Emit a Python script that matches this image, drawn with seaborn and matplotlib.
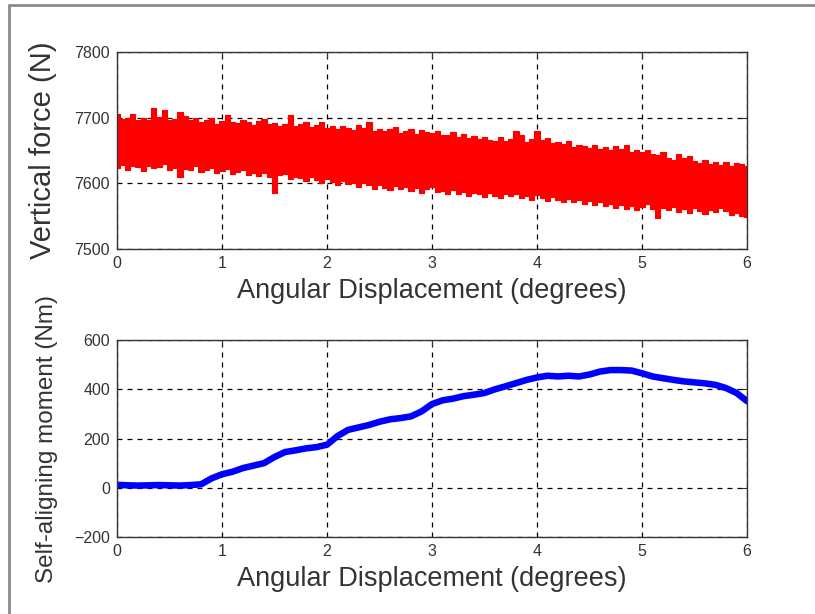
import numpy as np
import pandas as pd
import matplotlib
matplotlib.use("Agg")
import matplotlib.pyplot as plt
import seaborn as sns
from matplotlib.lines import Line2D

# ---------------------------------------------------
# data
# ---------------------------------------------------

# top panel: noisy vertical force, given as its upper / lower envelope
force_x = np.round(np.arange(0, 121) * 0.05, 2)
force_upper = [
    7706, 7698, 7700, 7705, 7696, 7699, 7697, 7714, 7701, 7711,
    7696, 7698, 7709, 7702, 7697, 7700, 7694, 7696, 7699, 7691,
    7695, 7704, 7693, 7692, 7697, 7694, 7689, 7695, 7698, 7690,
    7692, 7688, 7691, 7704, 7687, 7691, 7693, 7686, 7689, 7694,
    7685, 7688, 7683, 7687, 7684, 7681, 7689, 7684, 7694, 7680,
    7683, 7679, 7682, 7686, 7677, 7680, 7683, 7675, 7681, 7678,
    7676, 7680, 7674, 7673, 7678, 7671, 7675, 7669, 7672, 7667,
    7671, 7666, 7665, 7670, 7664, 7667, 7679, 7674, 7663, 7668,
    7680, 7666, 7669, 7661, 7663, 7660, 7664, 7656, 7659, 7657,
    7654, 7658, 7653, 7655, 7650, 7657, 7652, 7659, 7648, 7651,
    7647, 7650, 7645, 7643, 7647, 7639, 7636, 7644, 7638, 7641,
    7634, 7631, 7636, 7630, 7633, 7628, 7632, 7626, 7631, 7629,
    7627,
]
force_lower = [
    7624, 7628, 7621, 7626, 7625, 7619, 7627, 7623, 7625, 7630,
    7621, 7624, 7609, 7622, 7620, 7626, 7617, 7621, 7624, 7615,
    7619, 7622, 7614, 7618, 7620, 7613, 7616, 7611, 7615, 7609,
    7585, 7612, 7614, 7606, 7610, 7608, 7603, 7609, 7605, 7601,
    7606, 7602, 7598, 7604, 7599, 7601, 7595, 7600, 7597, 7592,
    7598, 7593, 7590, 7596, 7591, 7595, 7588, 7593, 7586, 7591,
    7594, 7587, 7589, 7584, 7590, 7583, 7587, 7581, 7586, 7583,
    7579, 7585, 7581, 7577, 7583, 7580, 7584, 7577, 7581, 7575,
    7582, 7578, 7573, 7579, 7575, 7571, 7576, 7572, 7574, 7569,
    7573, 7567, 7571, 7565, 7569, 7563, 7567, 7561, 7566, 7560,
    7564, 7568, 7561, 7547, 7562, 7559, 7564, 7557, 7561, 7555,
    7562, 7558, 7553, 7560, 7556, 7563, 7558, 7552, 7555, 7550,
    7548,
]

# bottom panel: self-aligning moment
moment_x = np.round(np.arange(0, 61) * 0.1, 1)
moment_y = [
    12, 10, 9, 10, 11, 10, 9, 11, 14, 38,
    55, 65, 80, 90, 100, 125, 145, 152, 160, 165,
    175, 210, 235, 245, 255, 268, 278, 283, 290, 310,
    340, 355, 362, 372, 378, 385, 400, 412, 425, 438,
    448, 455, 452, 455, 452, 460, 472, 478, 478, 476,
    465, 452, 445, 438, 432, 428, 424, 418, 405, 385,
    352,
]

x_ticks = [0, 1, 2, 3, 4, 5, 6]
force_ticks = [7500, 7600, 7700, 7800]
moment_ticks = [-200, 0, 200, 400, 600]

xlabel = "Angular Displacement (degrees)"

# ---------------------------------------------------
# style
# ---------------------------------------------------

sns.set_theme(style="white")
plt.rcParams['font.family'] = ['Liberation Sans', 'DejaVu Sans']

fig = plt.figure(figsize=(8.15, 6.14), dpi=100)
ax1 = fig.add_axes([0.1436, 0.5945, 0.773, 0.3208])
ax2 = fig.add_axes([0.1436, 0.1254, 0.773, 0.3208])

# top: red noisy band
ax1.fill_between(force_x, force_lower, force_upper, step="mid",
                 color="#ff0000", linewidth=0)
df_top = pd.DataFrame({"x": force_x, "hi": force_upper, "lo": force_lower})
sns.lineplot(data=df_top, x="x", y="hi", ax=ax1, color="#ff0000",
             lw=0.8, drawstyle="steps-mid")
sns.lineplot(data=df_top, x="x", y="lo", ax=ax1, color="#ff0000",
             lw=0.8, drawstyle="steps-mid")

# bottom: blue curve
df_bot = pd.DataFrame({"x": moment_x, "m": moment_y})
sns.lineplot(data=df_bot, x="x", y="m", ax=ax2, color="#0000ff", lw=4.7)

for ax, yt in [(ax1, force_ticks), (ax2, moment_ticks)]:
    ax.set_xlim(0, 6)
    ax.set_ylim(yt[0], yt[-1])
    ax.set_xticks(x_ticks)
    ax.set_yticks(yt)
    ax.grid(True, color="black", linestyle=(0, (4, 4)), linewidth=0.9)
    ax.set_axisbelow(True)
    ax.tick_params(direction="in", length=4, width=0.8, top=True, right=True,
                   labelsize=11.5, colors="#333333", pad=5)
    for s in ax.spines.values():
        s.set_color("#333333")
        s.set_linewidth(1.0)
    ax.set_xlabel(xlabel, fontsize=19.5, color="#333333")
    ax.xaxis.set_label_coords(0.5, -0.148)

ax1.set_ylabel("Vertical force (N)", fontsize=21, color="#333333")
ax1.yaxis.set_label_coords(-0.096, 0.5)
ax2.set_ylabel("Self-aligning moment (Nm)", fontsize=17.5, color="#333333")
ax2.yaxis.set_label_coords(-0.094, 0.5)

# gray frame around the figure
fig.add_artist(Line2D([0.011, 1.0], [0.992, 0.992], color="#8a8a8a", lw=2,
                      transform=fig.transFigure))
fig.add_artist(Line2D([0.011, 0.011], [0.0, 0.992], color="#8a8a8a", lw=2,
                      transform=fig.transFigure))

fig.savefig("out.png", dpi=100)
